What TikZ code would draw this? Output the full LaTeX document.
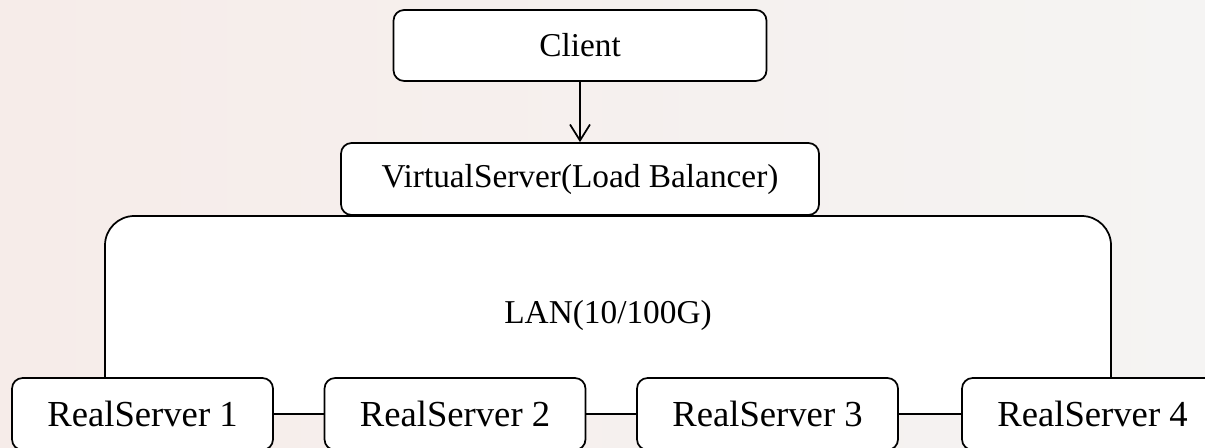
\documentclass[tikz,border=0pt]{standalone}
\usepackage{fontspec}
\setmainfont{Liberation Serif}
\usetikzlibrary{arrows.meta}
\definecolor{bgleft}{RGB}{246,236,233}
\definecolor{bgright}{RGB}{245,244,243}
\tikzset{
  every picture/.style={x=0.75pt,y=-0.75pt},
  box/.style={draw=black, fill=white, line width=1.3pt, rounded corners=8pt, inner sep=0pt},
  smalltext/.style={font=\fontsize{25}{30}\selectfont},
  bigtext/.style={font=\fontsize{27.5}{33}\selectfont},
  link/.style={draw=black, line width=1.3pt},
  arrowlink/.style={link, -{Straight Barb[length=12pt,width=15pt,line width=1.3pt]}}
}
\begin{document}
\begin{tikzpicture}
\useasboundingbox (0,0) rectangle (1205,448);
\shade[left color=bgleft, right color=bgright] (0,0) rectangle (1205,448);

\node[box, smalltext, minimum width=279.75pt, minimum height=53.25pt] (client) at (580,45.5) {Client};
\node[box, smalltext, minimum width=358.5pt, minimum height=54pt] (vs) at (580,179) {VirtualServer(Load Balancer)};
\node[box, smalltext, rounded corners=22pt, minimum width=754.5pt, minimum height=148.5pt] (lan) at (608,315) {LAN(10/100G)};

\node[box, bigtext, minimum width=195.75pt, minimum height=54pt] (rs1) at (142.5,414) {RealServer 1};
\node[box, bigtext, minimum width=195.75pt, minimum height=54pt] (rs2) at (455,414) {RealServer 2};
\node[box, bigtext, minimum width=195.75pt, minimum height=54pt] (rs3) at (767.5,414) {RealServer 3};
\node[box, bigtext, minimum width=195.75pt, minimum height=54pt] (rs4) at (1092.5,414) {RealServer 4};

\draw[arrowlink] (client) -- (vs);
\draw[link] (rs1) -- (rs2);
\draw[link] (rs2) -- (rs3);
\draw[link] (rs3) -- (rs4);
\end{tikzpicture}
\end{document}
